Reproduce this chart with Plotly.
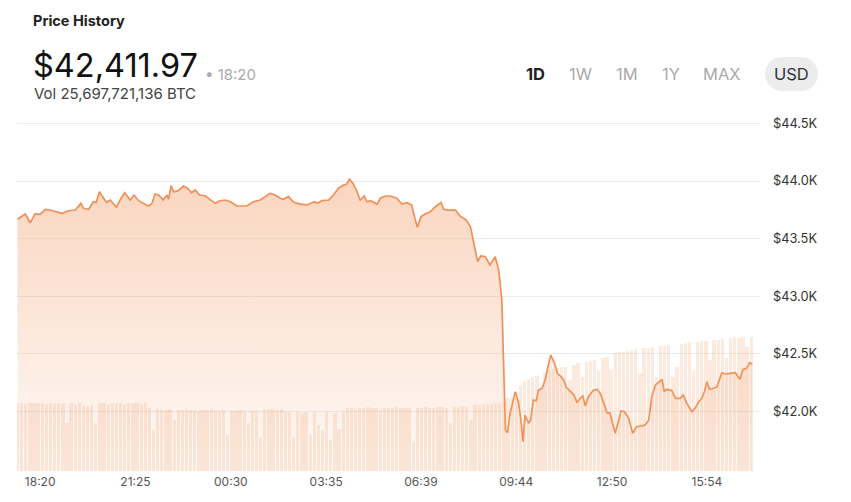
import numpy as np
import pandas as pd
import plotly.graph_objects as go

# ---------------- data ----------------
# price line: minutes after 18:20 (day 1) and price in USD
price_minutes = [-44, -29, -19, -10, 0, 10, 19, 29, 42, 55, 68, 79, 84, 94, 103, 109, 115, 123, 129, 136,
                 148, 155, 164, 175, 182, 191, 201, 210, 217, 223, 230, 239, 246, 249, 254, 259, 268, 278, 286, 294,
                 301, 309, 320, 327, 340, 349, 359, 369, 382, 401, 414, 427, 437, 446, 456, 466, 472, 482, 492, 505,
                 518, 527, 532, 538, 547, 560, 569, 579, 589, 595, 600, 607, 613, 621, 629, 634, 641, 654, 660, 670,
                 679, 692, 702, 712, 721, 728, 732, 739, 747, 757, 767, 778, 783, 793, 806, 815, 827, 835, 841, 849,
                 855, 864, 873, 883, 890, 896, 899, 903, 907, 912, 922, 928, 933, 937, 941, 948, 952, 957, 963, 967,
                 974, 980, 987, 991, 998, 1004, 1011, 1016, 1021, 1029, 1036, 1042, 1048, 1053, 1058, 1064, 1074, 1081, 1087, 1094,
                 1100, 1106, 1116, 1123, 1127, 1134, 1142, 1150, 1157, 1165, 1174, 1181, 1187, 1194, 1200, 1207, 1211, 1216, 1226, 1233,
                 1242, 1248, 1255, 1265, 1271, 1278, 1284, 1289, 1294, 1299, 1307, 1313, 1323, 1330, 1339, 1349, 1358, 1364, 1371, 1377,
                 1382]
price_usd = [43668, 43714, 43638, 43714, 43711, 43754, 43748, 43733, 43720, 43742, 43748, 43806, 43763, 43754, 43820, 43815, 43907, 43850, 43815, 43835,
             43772, 43835, 43898, 43835, 43878, 43829, 43806, 43783, 43806, 43887, 43878, 43835, 43878, 43841, 43959, 43907, 43916, 43957, 43937, 43898,
             43922, 43878, 43872, 43850, 43806, 43829, 43835, 43820, 43783, 43783, 43820, 43835, 43864, 43893, 43878, 43850, 43841, 43864, 43815, 43800,
             43792, 43806, 43820, 43806, 43829, 43835, 43878, 43937, 43965, 43974, 44015, 43980, 43928, 43835, 43870, 43820, 43829, 43800, 43850, 43870,
             43870, 43850, 43800, 43812, 43792, 43661, 43598, 43690, 43714, 43733, 43777, 43812, 43754, 43748, 43748, 43696, 43661, 43603, 43459, 43300,
             43349, 43343, 43271, 43343, 43227, 42967, 42475, 41839, 41815, 41984, 42171, 42084, 41925, 41737, 41969, 41897, 41931, 42099, 42093, 42186,
             42201, 42273, 42418, 42490, 42418, 42331, 42301, 42273, 42209, 42171, 42142, 42076, 42114, 42134, 42047, 42128, 42186, 42192, 42157, 42070,
             41989, 41984, 41810, 41925, 42003, 41997, 41940, 41810, 41867, 41873, 41882, 41925, 42128, 42229, 42249, 42279, 42171, 42192, 42180, 42114,
             42114, 42142, 42070, 41997, 42027, 42084, 42114, 42171, 42258, 42192, 42201, 42209, 42336, 42325, 42331, 42336, 42279, 42365, 42374, 42423,
             42411.97]

# volume bars, one every 8 minutes starting 17:36 (arbitrary units)
volume_start = "2023-12-10 17:36"
volume_step_min = 8
volume = [68, 68, 67, 68, 68, 68, 68, 67, 68, 68, 68, 68, 48, 68, 67, 68,
          65, 65, 66, 48,
          68, 68, 67, 68, 68, 68, 67, 68, 68, 68, 67, 68,
          63, 41, 62, 62, 61, 62, 51,
          61, 61, 62, 61, 61, 60, 61, 61, 62, 61, 60, 61,
          36, 60, 60, 61, 60, 48, 60, 60, 34,
          62, 62, 62, 61, 62, 59, 59, 34, 59, 58, 59, 36, 59, 46, 41, 59, 31, 58, 42, 59,
          63, 63, 62, 63, 63, 64, 63, 63, 62, 63, 63, 63, 64, 63, 63, 63,
          29, 63, 63, 64, 63, 63, 64, 64, 63, 48, 64, 64, 65, 64, 51,
          66, 66, 67, 67, 67, 68, 68,
          70, 73, 74, 79, 86, 90, 92, 94, 95, 81,
          99, 101, 102, 103, 104, 104, 91, 106, 108, 94, 109, 110, 111, 100, 113, 114, 101,
          118, 119, 119, 120, 121, 122, 98, 123, 123, 124, 94, 125, 125, 126, 94, 104,
          127, 128, 129, 100, 129, 130, 130, 111, 131, 131, 132, 113, 133, 134, 133, 134, 124, 134]

base_time = "2023-12-10 18:20"
x_tick_labels = ["18:20", "21:25", "00:30", "03:35", "06:39", "09:44", "12:50", "15:54"]
y_tick_values = [42000, 42500, 43000, 43500, 44000, 44500]
y_tick_labels = ["$42.0K", "$42.5K", "$43.0K", "$43.5K", "$44.0K", "$44.5K"]

title_text = "Price History"
header_price = "$42,411.97"
header_time = "• 18:20"
header_volume = "Vol 25,697,721,136 BTC"
range_buttons = ["1D", "1W", "1M", "1Y", "MAX"]
currency = "USD"

# ---------------- build ----------------
base = pd.Timestamp(base_time)
price_times = base + pd.to_timedelta(price_minutes, unit="m")
bar_times = pd.Timestamp(volume_start) + pd.to_timedelta(np.arange(len(volume)) * volume_step_min, unit="m")

tickvals = []
for lab in x_tick_labels:
    t = pd.Timestamp(base.strftime("%Y-%m-%d") + " " + lab)
    if t < base:
        t += pd.Timedelta(days=1)
    tickvals.append(t)

FONT = "Inter, Roboto, 'Noto Sans', sans-serif"
LINE = "#ef9157"

fig = go.Figure()
fig.add_trace(go.Bar(
    x=bar_times, y=volume, yaxis="y2",
    width=volume_step_min * 60000 * 0.8,
    marker=dict(color="rgba(243,160,110,0.22)", line=dict(width=0)),
    hoverinfo="skip", showlegend=False,
))
fig.add_trace(go.Scatter(
    x=price_times, y=price_usd, mode="lines",
    line=dict(color=LINE, width=1.7),
    fill="tozeroy",
    fillgradient=dict(type="vertical", start=41480, stop=44100,
                      colorscale=[[0, "rgba(243,160,110,0.06)"], [1, "rgba(243,160,110,0.45)"]]),
    hoverinfo="skip", showlegend=False,
))

L, R, T, B = 17, 760, 100, 471
W, H = R - L, B - T


def fx(px):
    return (px - L) / W


def fy(py):
    return (B - py) / H


annos = [
    dict(text="<b>" + title_text + "</b>", x=fx(31), y=fy(21), font=dict(size=14.5, color="#222")),
    dict(text=header_price, x=fx(31), y=fy(65), font=dict(size=32.5, color="#111")),
    dict(text=header_time, x=fx(203), y=fy(74), font=dict(size=15, color="#aaa")),
    dict(text=header_volume, x=fx(32), y=fy(94), font=dict(size=15, color="#444")),
]
for lab, cx in zip(range_buttons, [535.5, 580, 627, 671, 722]):
    if lab == "1D":
        annos.append(dict(text="<b>" + lab + "</b>", x=fx(cx), y=fy(74), xanchor="center",
                          font=dict(size=16.5, color="#222")))
    else:
        annos.append(dict(text=lab, x=fx(cx), y=fy(74), xanchor="center",
                          font=dict(size=16.5, color="#aaa")))
annos.append(dict(text=currency, x=fx(791.5), y=fy(74), xanchor="center", font=dict(size=16.5, color="#333")))
for a in annos:
    a.setdefault("xanchor", "left")
    a.update(xref="paper", yref="paper", yanchor="middle", showarrow=False)
    a["font"]["family"] = FONT

# pill behind currency
k = 0.5523 * 17
x0, x1, xl, xr = 782, 801, 765, 818
y0, y1, ym = 57, 91, 74
pts = (f"M {fx(x0)},{fy(y0)} L {fx(x1)},{fy(y0)} "
       f"C {fx(x1 + k)},{fy(y0)} {fx(xr)},{fy(ym - k)} {fx(xr)},{fy(ym)} "
       f"C {fx(xr)},{fy(ym + k)} {fx(x1 + k)},{fy(y1)} {fx(x1)},{fy(y1)} "
       f"L {fx(x0)},{fy(y1)} "
       f"C {fx(x0 - k)},{fy(y1)} {fx(xl)},{fy(ym + k)} {fx(xl)},{fy(ym)} "
       f"C {fx(xl)},{fy(ym - k)} {fx(x0 - k)},{fy(y0)} {fx(x0)},{fy(y0)} Z")

fig.update_layout(
    width=851, height=502,
    margin=dict(l=L, r=851 - R, t=T, b=502 - B),
    paper_bgcolor="white", plot_bgcolor="white",
    font=dict(family=FONT),
    bargap=0,
    annotations=annos,
    shapes=[dict(type="path", path=pts, xref="paper", yref="paper",
                 fillcolor="#ececec", line=dict(width=0), layer="below")],
    xaxis=dict(type="date",
               range=[base - pd.Timedelta(minutes=45), base + pd.Timedelta(minutes=1397)],
               tickvals=tickvals, ticktext=x_tick_labels,
               showgrid=False, zeroline=False, showline=False, ticks="",
               tickfont=dict(size=12, color="#555"), ticklabelstandoff=2),
    yaxis=dict(range=[41483, 44703], side="right",
               tickvals=y_tick_values, ticktext=y_tick_labels,
               showgrid=True, gridcolor="#ebebeb", gridwidth=1,
               zeroline=False, showline=False, ticks="",
               tickfont=dict(size=12.8, color="#333"), ticklabelstandoff=12),
    yaxis2=dict(range=[0, 371], overlaying="y", visible=False),
)

fig.write_html("out.html", config={"displayModeBar": False},
               post_script="document.body.style.margin='0';document.body.style.padding='0';"
                           "document.body.style.overflow='hidden';")
